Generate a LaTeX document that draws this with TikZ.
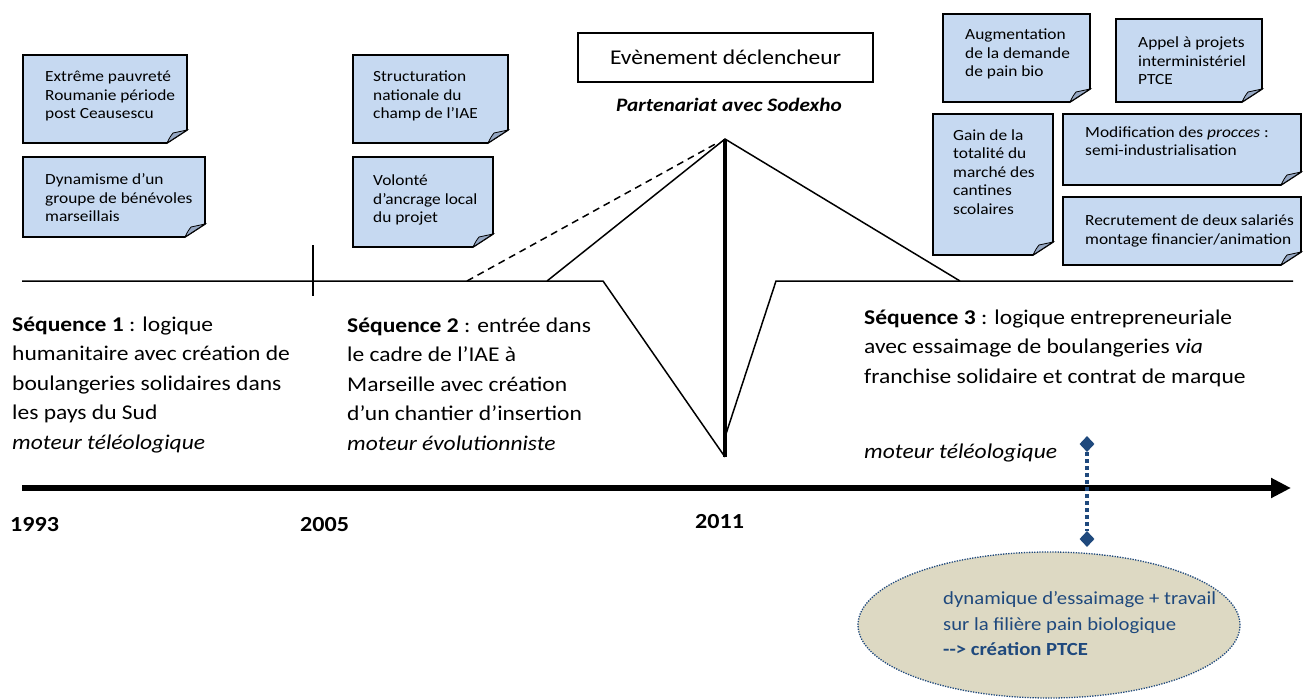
\documentclass[tikz,border=0pt]{standalone}
\usepackage{fontspec}
\setmainfont[FakeStretch=1.12]{Carlito}
\usetikzlibrary{arrows.meta,shapes.geometric}
\definecolor{noteblue}{RGB}{198,217,241}
\definecolor{foldblue}{RGB}{150,168,196}
\definecolor{darkblue}{RGB}{31,73,125}
\definecolor{tanfill}{RGB}{221,217,195}
\newcommand{\mynote}[4]{%
  \filldraw[fill=noteblue,draw=black,line width=1.6pt,line join=miter]
    (#1,#2) -- (#3,#2) -- (#3,#4-13) -- (#3-20,#4) -- (#1,#4) -- cycle;
  \filldraw[fill=foldblue,draw=black,line width=0.8pt]
    (#3-20,#4) .. controls (#3-17,#4-6) .. (#3-14,#4-10) -- (#3,#4-13) -- cycle;
}
\tikzset{
  notetext/.style={anchor=west,inner sep=0pt,align=left,font=\fontsize{15.5}{18.5}\selectfont},
  seqtext/.style={anchor=west,inner sep=0pt,align=left,font=\fontsize{21}{29.5}\selectfont},
  yeartext/.style={anchor=west,inner sep=0pt,font=\fontsize{21.5}{25}\selectfont\bfseries},
  thinline/.style={line width=1.5pt},
}
\begin{document}
\begin{tikzpicture}[x=1pt,y=-1pt]
\useasboundingbox[fill=white] (0,0) rectangle (1306,699);

% note boxes
\mynote{23}{55}{187}{143}
\node[notetext] (n1) at (45,96) {Extrême pauvreté\\Roumanie période\\post Ceausescu};
\mynote{23}{157}{205}{237}
\node[notetext] (n2) at (45,198) {Dynamisme d’un\\groupe de bénévoles\\marseillais};
\mynote{353}{55}{508}{143}
\node[notetext] (n3) at (373,96) {Structuration\\nationale du\\champ de l’IAE};
\mynote{353}{157}{493}{247}
\node[notetext] (n4) at (373,200) {Volonté\\d’ancrage local\\du projet};
\mynote{943}{14}{1090}{102}
\node[notetext] (n5) at (965,54) {Augmentation\\de la demande\\de pain bio};
\mynote{1116}{19}{1262}{102}
\node[notetext] (n6) at (1138,61) {Appel à projets\\interministériel\\PTCE};
\mynote{933}{114}{1053}{255}
\node[notetext] (n7) at (953,172) {Gain de la\\totalité du\\marché des\\cantines\\scolaires};
\mynote{1063}{114}{1301}{185}
\node[notetext] (n8) at (1085,141) {Modification des \textit{procces} :\\semi-industrialisation};
\mynote{1063}{197}{1301}{265}
\node[notetext] (n9) at (1085,231) {Recrutement de deux salariés\\montage financier/animation};

% event
\node[draw,line width=1.2pt,minimum width=295pt,minimum height=49pt,inner sep=0pt,
      font=\fontsize{21}{25}\selectfont] (evt) at (725.5,57.5) {Evènement déclencheur};
\node[inner sep=0pt,font=\fontsize{19}{23}\selectfont\bfseries\itshape] (part) at (729,105) {Partenariat avec Sodexho};

% timeline and lightning
\coordinate (tl0) at (22,281);
\coordinate (tl1) at (603,281);
\coordinate (low) at (725,457);
\coordinate (lowr) at (725,437);
\coordinate (tr0) at (776,281);
\coordinate (tr1) at (1293,281);
\coordinate (up0) at (547,281);
\coordinate (apex) at (725,139);
\coordinate (dn1) at (960,281);
\coordinate (ds0) at (467,281);
\coordinate (ds1) at (719,142);
\coordinate (tk0) at (313,245);
\coordinate (tk1) at (313,296);
\draw[thinline,line join=miter] (tl0) -- (tl1) -- (low);
\draw[thinline,line join=miter] (lowr) -- (tr0) -- (tr1);
\draw[thinline,line join=miter] (up0) -- (apex) -- (dn1);
\draw[thinline,dash pattern=on 7pt off 5pt] (ds0) -- (ds1);
\draw[line width=3.2pt] (apex) -- (low);
\draw[thinline] (tk0) -- (tk1);

% sequences
\node[seqtext] (s1) at (12,385) {\textbf{Séquence 1} : logique\\humanitaire avec création de\\boulangeries solidaires dans\\les pays du Sud\\\textit{moteur téléologique}};
\node[seqtext] (s2) at (347,384) {\textbf{Séquence 2} : entrée dans\\le cadre de l’IAE à\\Marseille avec création\\d’un chantier d’insertion\\\textit{moteur évolutionniste}};
\node[seqtext] (s3) at (864,348) {\textbf{Séquence 3} : logique entrepreneuriale\\avec essaimage de boulangeries \textit{via}\\franchise solidaire et contrat de marque};
\node[seqtext] (s3m) at (864,453) {\textit{moteur téléologique}};

% axis
\coordinate (ax0) at (22,488);
\coordinate (ax1) at (1291,488);
\draw[line width=6.5pt,-{Triangle[length=20pt,width=19pt]}] (ax0) -- (ax1);

% years
\node[yeartext] (y1) at (10,525) {1993};
\node[yeartext] (y2) at (300,525) {2005};
\node[yeartext] (y3) at (695,522) {2011};

% ellipse and link
\node[ellipse,fill=tanfill,draw=darkblue,line width=1.3pt,dash pattern=on 1.3pt off 1.3pt,
      minimum width=382pt,minimum height=146pt,inner sep=0pt] (ell) at (1049,625) {};
\node[anchor=west,inner sep=0pt,align=left,text=darkblue,font=\fontsize{18.5}{25.5}\selectfont] (elltext) at (943,624)
  {dynamique d’essaimage + travail\\sur la filière pain biologique\\\textbf{-{}-{}> création PTCE}};
\node[diamond,fill=darkblue,minimum width=15pt,minimum height=16pt,inner sep=0pt] (d1) at (1087,444) {};
\node[diamond,fill=darkblue,minimum width=15pt,minimum height=16pt,inner sep=0pt] (d2) at (1087,539) {};
\draw[darkblue,line width=4pt,dash pattern=on 4pt off 3pt] (d1) -- (d2);
\end{tikzpicture}
\end{document}
